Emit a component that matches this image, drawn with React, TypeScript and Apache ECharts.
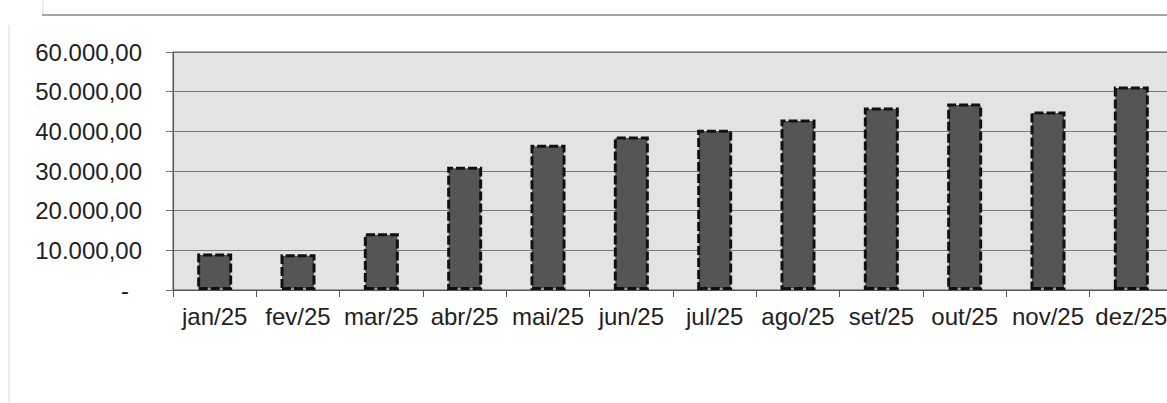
import React, { useEffect, useRef } from "react";
import * as echarts from "echarts";

const categories = ["jan/25", "fev/25", "mar/25", "abr/25", "mai/25", "jun/25", "jul/25", "ago/25", "set/25", "out/25", "nov/25", "dez/25"];
const values = [9200, 9000, 14300, 31100, 36600, 38700, 40400, 43000, 46000, 47000, 45000, 51300];
const yTicks = { min: 0, max: 60000, interval: 10000 };

function fmt(v: number): string {
  if (v === 0) return "{d|-}";
  const int = Math.round(v).toString().replace(/\B(?=(\d{3})+(?!\d))/g, ".");
  return int + ",00";
}

export default function App() {
  const ref = useRef<HTMLDivElement>(null);
  useEffect(() => {
    document.body.style.margin = "0";
    const chart = echarts.init(ref.current!, null, { renderer: "svg" });
    chart.setOption({
      animation: false,
      backgroundColor: "#ffffff",
      textStyle: { fontFamily: "Liberation Sans, Arial, sans-serif" },
      grid: {
        left: 173,
        top: 52,
        right: 2,
        bottom: 113,
        show: true,
        backgroundColor: "#e3e3e3",
        borderColor: "#555555",
        borderWidth: 1,
      },
      xAxis: {
        type: "category",
        data: categories,
        axisLine: { lineStyle: { color: "#555555", width: 1 } },
        axisTick: { show: true, length: 7, interval: 0, lineStyle: { color: "#555555" } },
        axisLabel: { color: "#222222", fontSize: 24, margin: 14, interval: 0 },
      },
      yAxis: {
        type: "value",
        min: yTicks.min,
        max: yTicks.max,
        interval: yTicks.interval,
        axisLine: { show: true, lineStyle: { color: "#555555", width: 1 } },
        axisTick: { show: true, length: 7, lineStyle: { color: "#777777" } },
        splitLine: { show: true, lineStyle: { color: "#7a7a7a", width: 1 } },
        axisLabel: {
          color: "#222222",
          fontSize: 24,
          margin: 31,
          formatter: fmt,
          rich: { d: { fontSize: 24, color: "#222222", padding: [0, 13, 0, 0] } },
        },
      },
      series: [
        {
          type: "bar",
          data: values,
          barWidth: 35,
          itemStyle: {
            color: "#555555",
            borderColor: "#111111",
            borderWidth: 3,
            borderType: [9, 3],
          },
        },
      ],
      graphic: [
        { type: "line", shape: { x1: 42, y1: 15, x2: 1175, y2: 15 }, style: { stroke: "#8a8a8a", lineWidth: 1.5 } },
        { type: "line", shape: { x1: 43, y1: 0, x2: 43, y2: 14 }, style: { stroke: "#dddddd", lineWidth: 1 } },
        { type: "line", shape: { x1: 9, y1: 25, x2: 9, y2: 403 }, style: { stroke: "#dddddd", lineWidth: 1 } },
      ],
    });
    return () => chart.dispose();
  }, []);
  return (
    <div style={{ width: 1167, height: 403, overflow: "hidden", position: "relative" }}>
      <div ref={ref} style={{ width: 1175, height: 403 }} />
    </div>
  );
}
